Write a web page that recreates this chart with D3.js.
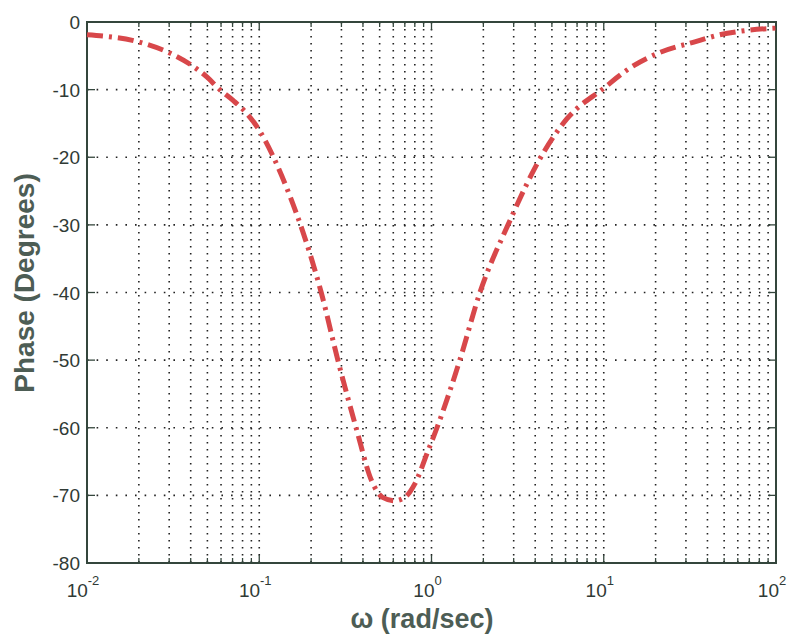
<!DOCTYPE html>
<html>
<head>
<meta charset="utf-8">
<script src="https://cdn.jsdelivr.net/npm/d3@7"></script>
<style>
  html, body { margin: 0; padding: 0; background: #fff; }
  svg { display: block; }
</style>
</head>
<body>
<svg id="chart" width="793" height="637"></svg>
<script>
// Frequency samples (rad/sec) and phase response (degrees)
const omega = [0.01, 0.0203, 0.0303, 0.04, 0.05, 0.059, 0.0705, 0.083, 0.1, 0.12,
               0.151, 0.179, 0.229, 0.286, 0.365, 0.45, 0.52, 0.61, 0.70, 0.80,
               0.955, 1.076, 1.46, 1.91, 2.78, 4.4, 6.12, 10, 14.2, 21.2,
               33, 47, 70, 100];
const phase = [-1.9, -3.0, -4.6, -6.3, -8.2, -10, -11.6, -13.3, -16, -19.8,
               -25.8, -31.0, -40, -50, -60, -67.9, -70.3, -70.8, -70.3, -68.3,
               -63.4, -60, -50, -40, -30, -19.6, -14.3, -9.8, -6.8, -4.5,
               -3.0, -1.9, -1.2, -0.9];

const xDecades = [-2, -1, 0, 1, 2];
const yTicks = [0, -10, -20, -30, -40, -50, -60, -70, -80];
const xTitle = "\u03c9 (rad/sec)";
const yTitle = "Phase (Degrees)";

(function () {
  const svg = d3.select("#chart");
  const pL = 87, pR = 776, pT = 22, pB = 563;

  const x = d3.scaleLog().domain([1e-2, 1e2]).range([pL, pR]);
  const y = d3.scaleLinear().domain([-80, 0]).range([pB, pT]);

  const axisColor = "#34463c";
  const textColor = "#303a35";

  // minor + major frequency positions
  const minorVals = [];
  for (let e = -2; e < 2; e++) {
    for (let k = 2; k <= 9; k++) minorVals.push(k * Math.pow(10, e));
  }
  const majorVals = xDecades.map(e => Math.pow(10, e));

  // dotted grid
  const grid = svg.append("g").attr("stroke", "#222").attr("stroke-width", 1.6);
  grid.selectAll("line.vx").data(minorVals.concat(majorVals.slice(1, -1))).enter()
    .append("line")
    .attr("x1", d => x(d)).attr("x2", d => x(d))
    .attr("y1", pT).attr("y2", pB)
    .attr("stroke-dasharray", "1.6,5.4");
  grid.selectAll("line.hy").data(yTicks.slice(1, -1)).enter()
    .append("line")
    .attr("x1", pL).attr("x2", pR)
    .attr("y1", d => y(d)).attr("y2", d => y(d))
    .attr("stroke-dasharray", "1.6,8");

  // inward ticks on all four sides
  const ticks = svg.append("g").attr("stroke", axisColor).attr("stroke-width", 1.3);
  const xTickData = majorVals.map(v => ({v, len: 8})).concat(minorVals.map(v => ({v, len: 5})));
  xTickData.forEach(t => {
    ticks.append("line").attr("x1", x(t.v)).attr("x2", x(t.v))
      .attr("y1", pB).attr("y2", pB - t.len);
    ticks.append("line").attr("x1", x(t.v)).attr("x2", x(t.v))
      .attr("y1", pT).attr("y2", pT + t.len);
  });
  yTicks.forEach(v => {
    ticks.append("line").attr("x1", pL).attr("x2", pL + 8)
      .attr("y1", y(v)).attr("y2", y(v));
    ticks.append("line").attr("x1", pR).attr("x2", pR - 8)
      .attr("y1", y(v)).attr("y2", y(v));
  });

  // frame
  svg.append("rect")
    .attr("x", pL).attr("y", pT)
    .attr("width", pR - pL).attr("height", pB - pT)
    .attr("fill", "none").attr("stroke", axisColor).attr("stroke-width", 2);

  // y tick labels
  svg.append("g").selectAll("text").data(yTicks).enter()
    .append("text")
    .attr("x", pL - 7).attr("y", d => y(d) + 7)
    .attr("text-anchor", "end")
    .attr("font-family", "Liberation Sans, Arial, sans-serif")
    .attr("font-size", 19).attr("fill", textColor)
    .text(d => d);

  // x tick labels as 10^n
  const xl = svg.append("g")
    .attr("font-family", "Liberation Sans, Arial, sans-serif")
    .attr("fill", textColor);
  xDecades.forEach(e => {
    const t = xl.append("text")
      .attr("x", x(Math.pow(10, e)) - 4).attr("y", 597)
      .attr("text-anchor", "middle").attr("font-size", 19);
    t.append("tspan").text("10");
    t.append("tspan").attr("dy", -12).attr("font-size", 13).text(e);
  });

  // axis titles
  svg.append("text")
    .attr("x", 422).attr("y", 628)
    .attr("text-anchor", "middle")
    .attr("font-family", "Liberation Sans, Arial, sans-serif")
    .attr("font-weight", "bold").attr("font-size", 27)
    .attr("fill", "#4d5d55")
    .text(xTitle);

  svg.append("text")
    .attr("transform", "translate(34,283) rotate(-90)")
    .attr("text-anchor", "middle")
    .attr("font-family", "Liberation Sans, Arial, sans-serif")
    .attr("font-weight", "bold").attr("font-size", 28)
    .attr("fill", "#4d5d55")
    .text(yTitle);

  // phase curve
  const pts = omega.map((w, i) => [w, phase[i]]);
  const line = d3.line()
    .x(d => x(d[0])).y(d => y(d[1]))
    .curve(d3.curveMonotoneX);
  svg.append("path")
    .attr("d", line(pts))
    .attr("fill", "none")
    .attr("stroke", "#d8474a")
    .attr("stroke-width", 5)
    .attr("stroke-dasharray", "16,6,3,6")
    .attr("stroke-linecap", "butt");
})();
</script>
</body>
</html>
